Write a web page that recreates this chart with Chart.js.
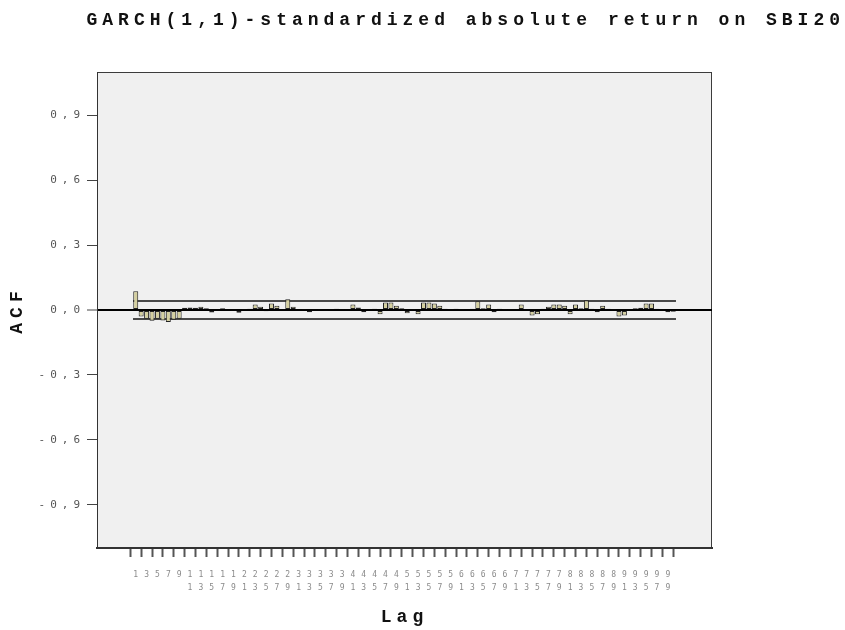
<!DOCTYPE html>
<html>
<head>
<meta charset="utf-8">
<script src="https://cdn.jsdelivr.net/npm/chart.js@4/dist/chart.umd.min.js"></script>
<style>
html, body { margin: 0; padding: 0; background: #fff; }
#wrap { width: 845px; height: 630px; }
</style>
</head>
<body>
<div id="wrap"><canvas id="chart"></canvas></div>
<script>

// lags 1..100
var lags = [1, 2, 3, 4, 5, 6, 7, 8, 9, 10,
  11, 12, 13, 14, 15, 16, 17, 18, 19, 20,
  21, 22, 23, 24, 25, 26, 27, 28, 29, 30,
  31, 32, 33, 34, 35, 36, 37, 38, 39, 40,
  41, 42, 43, 44, 45, 46, 47, 48, 49, 50,
  51, 52, 53, 54, 55, 56, 57, 58, 59, 60,
  61, 62, 63, 64, 65, 66, 67, 68, 69, 70,
  71, 72, 73, 74, 75, 76, 77, 78, 79, 80,
  81, 82, 83, 84, 85, 86, 87, 88, 89, 90,
  91, 92, 93, 94, 95, 96, 97, 98, 99, 100];

// ACF values
var acf = [0.087, -0.030, -0.040, -0.050, -0.040, -0.048, -0.055, -0.045, -0.040, 0.010,
  0.012, 0.010, 0.015, 0.008, -0.012, 0.005, 0.008, 0.004, -0.003, -0.013,
  0.004, 0.006, 0.025, 0.015, -0.006, 0.030, 0.020, 0.004, 0.050, 0.015,
  0.005, 0.004, -0.010, 0.005, 0.004, -0.003, 0.004, 0.006, 0.003, 0.004,
  0.025, 0.012, -0.010, 0.005, 0.006, -0.020, 0.035, 0.035, 0.020, 0.008,
  -0.015, 0.004, -0.020, 0.035, 0.035, 0.030, 0.020, 0.006, 0.004, 0.006,
  0.003, 0.005, 0.006, 0.040, 0.008, 0.025, -0.010, 0.006, 0.004, 0.003,
  0.005, 0.025, 0.004, -0.025, -0.020, 0.006, 0.015, 0.025, 0.025, 0.020,
  -0.020, 0.025, 0.008, 0.045, 0.006, -0.010, 0.020, 0.006, 0.004, -0.030,
  -0.025, 0.005, 0.008, 0.010, 0.030, 0.030, 0.006, 0.004, -0.010, -0.008];

// confidence limits
var confX = [0.5, 100.5];
var confUpper = [0.042, 0.042];
var confLower = [-0.042, -0.042];

var xTicks = [1, 3, 5, 7, 9, 11, 13, 15, 17, 19, 21, 23, 25, 27, 29, 31, 33, 35, 37, 39,
  41, 43, 45, 47, 49, 51, 53, 55, 57, 59, 61, 63, 65, 67, 69, 71, 73, 75, 77, 79,
  81, 83, 85, 87, 89, 91, 93, 95, 97, 99];
var yTicks = [-0.9, -0.6, -0.3, 0, 0.3, 0.6, 0.9];

var titleFont = {family: "'Liberation Mono', 'Courier New', monospace", size: 18, weight: 'bold'};

Chart.defaults.font.family = "'DejaVu Sans Mono', monospace";

// the spss output uses spaced-out letters
var spacing = {
  id: 'spacing',
  beforeLayout: function (chart) { chart.ctx.letterSpacing = '5px'; },
  beforeDraw: function (chart) { chart.ctx.letterSpacing = '5px'; }
};

var frame = {
  id: 'frame',
  beforeDraw: function (chart) {
    var a = chart.chartArea, c = chart.ctx;
    c.save();
    c.fillStyle = '#f0f0f0';
    c.fillRect(a.left, a.top, a.right - a.left, a.bottom - a.top);
    c.strokeStyle = '#3c3c3c';
    c.lineWidth = 1;
    c.strokeRect(a.left + 0.5, a.top + 0.5, a.right - a.left - 1, a.bottom - a.top - 1);
    c.restore();
  }
};

function pts(xs, ys) {
  return xs.map(function (x, i) { return {x: x, y: ys[i]}; });
}

var chart = new Chart('chart', {
  type: 'bar',
  data: {
    datasets: [
      {
        label: 'ACF',
        data: pts(lags, acf),
        backgroundColor: '#d4cf9f',
        borderColor: '#222',
        borderWidth: 1,
        borderSkipped: false,
        barPercentage: 1,
        categoryPercentage: 0.92,
        order: 1
      },
      {
        type: 'line',
        label: 'Upper Confidence Limit',
        data: pts(confX, confUpper),
        borderColor: '#111',
        borderWidth: 1.5,
        pointRadius: 0,
        fill: false,
        order: 2
      },
      {
        type: 'line',
        label: 'Lower Confidence Limit',
        data: pts(confX, confLower),
        borderColor: '#111',
        borderWidth: 1.5,
        pointRadius: 0,
        fill: false,
        order: 2
      }
    ]
  },
  options: {
    responsive: true,
    maintainAspectRatio: false,
    animation: false,
    events: [],
    layout: {padding: 0},
    plugins: {
      legend: {display: false},
      tooltip: {enabled: false},
      title: {
        display: true,
        text: 'GARCH(1,1)-standardized absolute return on SBI20',
        align: 'end',
        color: '#111',
        font: titleFont,
        padding: {top: 10, bottom: 40.4}
      }
    },
    scales: {
      x: {
        type: 'linear',
        min: -5,
        max: 106,
        afterBuildTicks: function (s) { s.ticks = xTicks.map(function (v) { return {value: v}; }); },
        afterFit: function (s) { s.height = 82; },
        grid: {drawOnChartArea: false, drawTicks: true, tickLength: 9, tickWidth: 2, tickColor: '#555'},
        border: {display: true, color: '#333', width: 2},
        ticks: {
          autoSkip: false, maxRotation: 0, minRotation: 0, padding: 12, labelOffset: 2.5,
          color: '#8a8a8a', font: {size: 8, lineHeight: 1.6},
          callback: function (v) { return String(v).split(''); }
        },
        title: {display: true, text: 'Lag', color: '#111', font: titleFont, padding: {top: 0, bottom: 2}}
      },
      y: {
        min: -1.1,
        max: 1.1,
        afterBuildTicks: function (s) { s.ticks = yTicks.map(function (v) { return {value: v}; }); },
        afterFit: function (s) { s.width = 97; },
        grid: {
          drawOnChartArea: true,
          color: function (c) { return c.tick && c.tick.value === 0 ? '#000' : 'rgba(0,0,0,0)'; },
          lineWidth: function (c) { return c.tick && c.tick.value === 0 ? 2 : 1; },
          tickColor: '#444', tickLength: 10, tickWidth: 1
        },
        border: {display: true, color: '#333', width: 1},
        ticks: {
          color: '#555', font: {size: 11}, padding: 2,
          callback: function (v) { return v.toFixed(1).replace('.', ','); }
        },
        title: {display: true, text: 'ACF', color: '#111', font: titleFont, padding: {top: 7, bottom: 0}}
      },
      y2: {
        position: 'right',
        display: true,
        min: -1.1,
        max: 1.1,
        grid: {display: false, drawOnChartArea: false},
        border: {display: false},
        ticks: {display: false},
        afterFit: function (s) { s.width = 133; }
      }
    }
  },
  plugins: [spacing, frame]
});
</script>
</body>
</html>
